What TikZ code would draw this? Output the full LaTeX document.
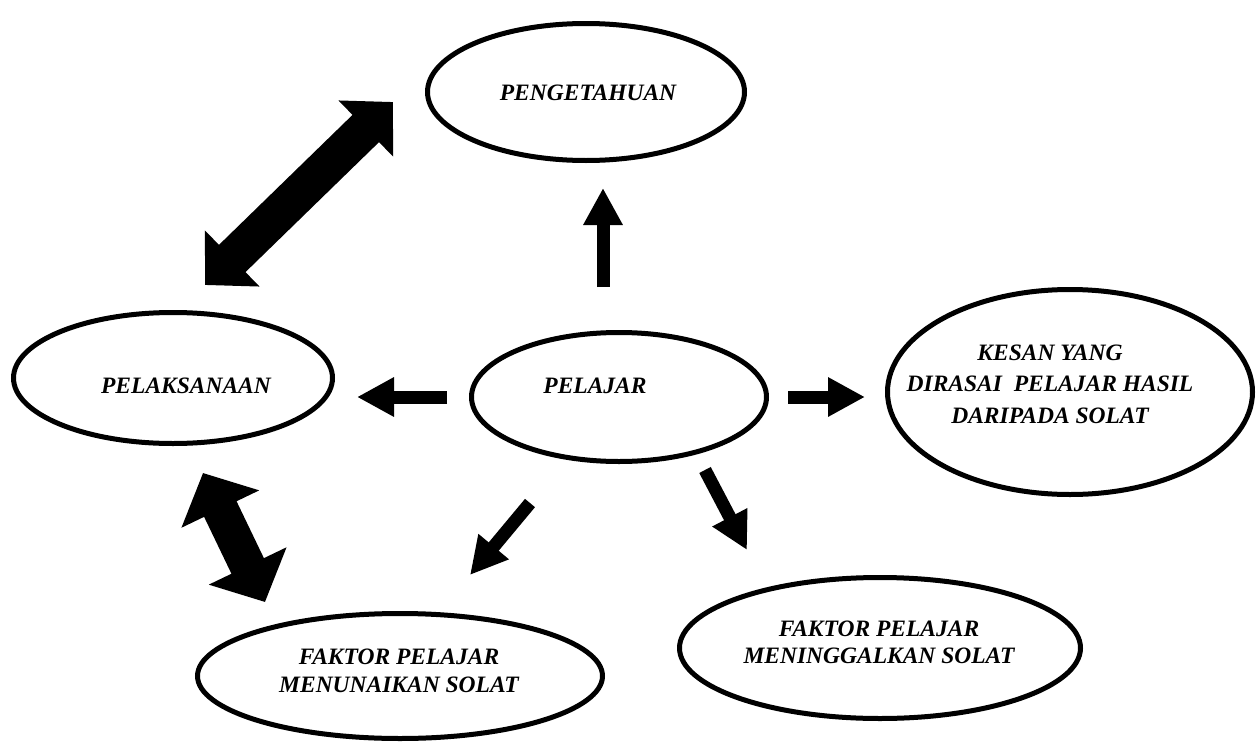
\documentclass[tikz,border=0pt]{standalone}
\usepackage{fontspec}
\setmainfont{Liberation Serif}
\usetikzlibrary{arrows.meta, shapes.geometric}

\begin{document}
\begin{tikzpicture}[x=1pt, y=-1pt,
  bubble/.style={draw, ellipse, line width=5pt, inner sep=0pt},
  lbl/.style={font=\fontsize{23.5}{28}\selectfont\bfseries\itshape, align=center, inner sep=0pt},
  thinarrow/.style={line width=13pt, -{Triangle[length=37pt,width=37pt]}},
  fatarrow/.style={line width=38pt, {Triangle[length=38pt,width=76pt]}-{Triangle[length=38pt,width=76pt]}}]
\useasboundingbox (0,0) rectangle (1256,744);
% ellipses
\node[bubble, minimum width=317pt, minimum height=137pt] (pengetahuan) at (586,92) {};
\node[bubble, minimum width=319pt, minimum height=131pt] (pelaksanaan) at (173,378) {};
\node[bubble, minimum width=295pt, minimum height=129pt] (pelajar) at (619,397) {};
\node[bubble, minimum width=365pt, minimum height=205pt] (kesan) at (1070,392) {};
\node[bubble, minimum width=405pt, minimum height=125pt] (menunaikan) at (400,676) {};
\node[bubble, minimum width=401pt, minimum height=141pt] (meninggalkan) at (880,648) {};
% labels
\node[lbl, anchor=base] (t-pengetahuan) at (588,100) {PENGETAHUAN};
\node[lbl, anchor=base] (t-pelaksanaan) at (186,393) {PELAKSANAAN};
\node[lbl, anchor=base] (t-pelajar) at (595,393) {PELAJAR};
\node[lbl, font=\fontsize{23.5}{31.5}\selectfont\bfseries\itshape] (t-kesan) at (1050,384)
  {KESAN YANG\\DIRASAI\ \ PELAJAR HASIL\\DARIPADA SOLAT};
\node[lbl] (t-menunaikan) at (399,671) {FAKTOR PELAJAR\\MENUNAIKAN SOLAT};
\node[lbl, font=\fontsize{23.5}{27}\selectfont\bfseries\itshape] (t-meninggalkan) at (879,642)
  {FAKTOR PELAJAR\\MENINGGALKAN SOLAT};
% arrow ends
\coordinate (up-a) at (603,287);    \coordinate (up-b) at (603,188);
\coordinate (left-a) at (447,397);  \coordinate (left-b) at (357,397);
\coordinate (right-a) at (788,397); \coordinate (right-b) at (865,397);
\coordinate (dl-a) at (530,503);    \coordinate (dl-b) at (470,575);
\coordinate (dr-a) at (705,470);    \coordinate (dr-b) at (747,550);
\coordinate (top-a) at (205,285);   \coordinate (top-b) at (393,102);
\coordinate (low-a) at (203,473);   \coordinate (low-b) at (265,602);
% arrows out of PELAJAR
\foreach \s in {up,left,right,dl,dr}{
  \draw[thinarrow] (\s-a) -- (\s-b);
}
% two-way arrows
\draw[fatarrow] (top-a) -- (top-b);
\draw[fatarrow, line width=36pt, {Triangle[length=40pt,width=84pt]}-{Triangle[length=40pt,width=84pt]}] (low-a) -- (low-b);
\end{tikzpicture}
\end{document}
